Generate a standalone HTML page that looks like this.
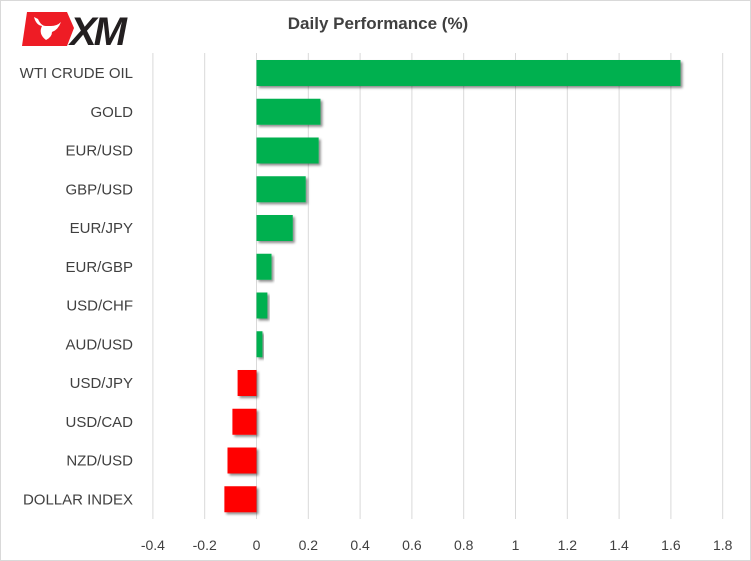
<!DOCTYPE html>
<html><head><meta charset="utf-8"><style>
body{margin:0;background:#fff}
svg{display:block;font-family:"Liberation Sans",sans-serif}
</style></head><body>
<svg id="c" width="751" height="561">
<defs><filter id="sh" x="-10%" y="-20%" width="130%" height="160%"><feDropShadow dx="2" dy="2" stdDeviation="1.2" flood-color="#000" flood-opacity="0.45"/></filter></defs>
<rect x="0.5" y="0.5" width="750" height="560" fill="#fff" stroke="#d9d9d9"/>
<g>
<polygon points="27,12 67,12 74,28 67,46 22,46" fill="#ee1c25"/>
<path d="M34,17 q2,8 8,9 q-4,8 4,14 q6,-3 6,-8 q6,-2 9,-10 q-4,4 -10,4 l-5,0 q-5,0 -8,-7z" fill="#fff"/>
<text x="70" y="45" font-size="40" font-weight="bold" font-style="italic" fill="#231f20" letter-spacing="-3">XM</text>
</g>
<text x="378" y="29" text-anchor="middle" font-size="17" font-weight="bold" fill="#404040">Daily Performance  (%)</text>
<g id="grid"></g><g id="bars"></g><g id="labels"></g><g id="ticks"></g>
</svg>
<script>
const categories=["WTI CRUDE OIL","GOLD","EUR/USD","GBP/USD","EUR/JPY","EUR/GBP","USD/CHF","AUD/USD","USD/JPY","USD/CAD","NZD/USD","DOLLAR INDEX"];
const values=[1.637,0.247,0.24,0.19,0.14,0.058,0.042,0.023,-0.073,-0.093,-0.112,-0.124];
const tickValues=[-0.4,-0.2,0,0.2,0.4,0.6,0.8,1,1.2,1.4,1.6,1.8];
const tickLabels=["-0.4","-0.2","0","0.2","0.4","0.6","0.8","1","1.2","1.4","1.6","1.8"];
const NS="http://www.w3.org/2000/svg";
const x=v=>256.5+v*259;
const y=i=>54+i*38.75;
function mk(t,a,p){const e=document.createElementNS(NS,t);for(const k in a)e.setAttribute(k,a[k]);p.appendChild(e);return e;}
const g=document.getElementById('grid'),b=document.getElementById('bars'),l=document.getElementById('labels'),tk=document.getElementById('ticks');
tickValues.forEach((v,i)=>{
 const ln=mk('line',{x1:x(v),x2:x(v),y1:53,y2:519,stroke:'#d9d9d9','stroke-width':1},g);
 
 
 const t=mk('text',{x:x(v),y:550,'text-anchor':'middle','font-size':14,fill:'#404040'},tk);
 t.textContent=tickLabels[i];
 
 
});
categories.forEach((c,i)=>{
 const v=values[i];const x0=Math.min(x(0),x(v)),w=Math.abs(x(v)-x(0));
 const r=mk('rect',{x:x0,y:y(i)+6,width:w,height:26,fill:v>=0?'#00b050':'#ff0000',filter:'url(#sh)'},b);
 
 
 const t=mk('text',{x:133,y:y(i)+24,'text-anchor':'end','font-size':15,fill:'#404040'},l);
 t.textContent=c;
 
 
});
</script>
</body></html>
